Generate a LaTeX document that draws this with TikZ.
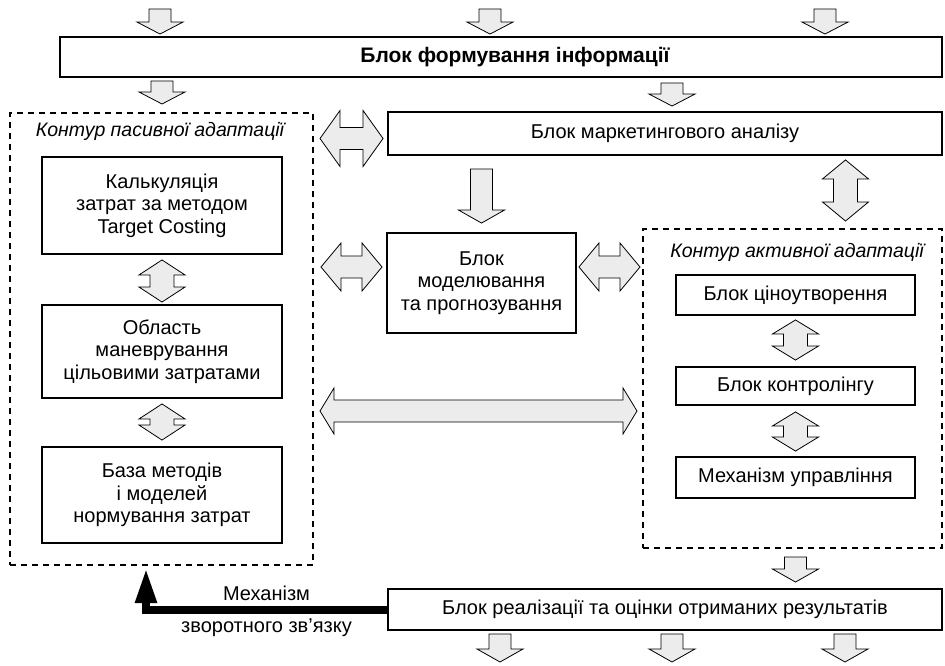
\documentclass[tikz,border=0pt]{standalone}
\usepackage{fontspec}
\setmainfont{Liberation Sans}
\usetikzlibrary{arrows.meta, calc, positioning}
\tikzset{
  block/.style={draw, line width=1.9pt, fill=white, align=center, inner sep=0pt,
                font=\fontsize{20}{22.5}\selectfont},
  contour/.style={draw, line width=2pt, dash pattern=on 6pt off 5pt, inner sep=0pt},
  contourlabel/.style={font=\fontsize{19.5}{22}\selectfont\itshape},
  fatarrow/.style={draw, line width=0.8pt, fill=gray!15, line join=miter},
  feedback/.style={line width=8pt, -{Triangle[length=35pt,width=20pt]}},
  fblabel/.style={font=\fontsize{20}{22}\selectfont, inner sep=2pt},
}
% hollow block arrows: [head length]{from}{to}
\newcommand{\fatdown}[3][13pt]{%
  \draw[fatarrow] let \p1=#2, \p2=#3 in
    (\x1-11pt,\y1) -- (\x1+11pt,\y1) -- (\x1+11pt,\y2+#1) -- (\x1+23pt,\y2+#1)
    -- (\x1,\y2) -- (\x1-23pt,\y2+#1) -- (\x1-11pt,\y2+#1) -- cycle;}
\newcommand{\fatupdown}[3][15pt]{%
  \draw[fatarrow] let \p1=#2, \p2=#3 in
    (\x1,\y1) -- (\x1+23pt,\y1-#1) -- (\x1+12pt,\y1-#1) -- (\x1+12pt,\y2+#1)
    -- (\x1+23pt,\y2+#1) -- (\x1,\y2) -- (\x1-23pt,\y2+#1) -- (\x1-12pt,\y2+#1)
    -- (\x1-12pt,\y1-#1) -- (\x1-23pt,\y1-#1) -- cycle;}
% #4 = half height of the heads
\newcommand{\fatleftright}[4][20pt]{%
  \draw[fatarrow] let \p1=#2, \p2=#3 in
    (\x1,\y1) -- (\x1+#1,\y1+#4) -- (\x1+#1,\y1+11pt) -- (\x2-#1,\y1+11pt)
    -- (\x2-#1,\y1+#4) -- (\x2,\y1) -- (\x2-#1,\y1-#4) -- (\x2-#1,\y1-11pt)
    -- (\x1+#1,\y1-11pt) -- (\x1+#1,\y1-#4) -- cycle;}
\begin{document}
\begin{tikzpicture}[x=1pt, y=-1pt]
\useasboundingbox (0,0) rectangle (945,666);

% contours
\node[contour, minimum width=303pt, minimum height=452pt] (passive) at (161.5,339) {};
\node[contourlabel] (passivelbl) at (160,131) {Контур пасивної адаптації};
\node[contour, minimum width=299pt, minimum height=319pt] (active) at (792.5,388.5) {};
\node[contourlabel] (activelbl) at (797,252) {Контур активної адаптації};

% blocks
\node[block, minimum width=882pt, minimum height=40pt, font=\fontsize{21}{22}\selectfont\bfseries]
  (info) at (501,57) {\hspace*{28pt}Блок формування інформації};
\node[block, minimum width=554pt, minimum height=43pt] (mkt) at (665,133.5) {Блок маркетингового аналізу};
\node[block, minimum width=189pt, minimum height=100pt] (model) at (481.5,283) {Блок\\моделювання\\та прогнозування};
\node[block, minimum width=554pt, minimum height=41pt] (result) at (665,609.5) {Блок реалізації та оцінки отриманих результатів};

\node[block, minimum width=240pt, minimum height=97pt] (calc) at (162,205.5) {Калькуляція\\затрат за методом\\Target Costing};
\node[block, minimum width=240pt, minimum height=93pt] (area) at (162,351.5) {Область\\маневрування\\цільовими затратами};
\node[block, minimum width=240pt, minimum height=96pt] (base) at (162,495) {База методів\\і моделей\\нормування затрат};

\node[block, minimum width=239pt, minimum height=40pt] (price) at (795.5,295) {Блок ціноутворення};
\node[block, minimum width=239pt, minimum height=38pt] (control) at (795.5,386) {Блок контролінгу};
\node[block, minimum width=239pt, minimum height=41pt] (mech) at (795.5,477.5) {Механізм управління};

% inputs and outputs
\coordinate (in1) at (160,9);
\coordinate (in2) at (490,9);
\coordinate (in3) at (825,9);
\coordinate (out1) at (500,662);
\coordinate (out2) at (672,662);
\coordinate (out3) at (845,662);
\foreach \i in {1,2,3}
  \fatdown[12pt]{(in\i)}{([yshift=2pt]in\i |- info.north)};
\foreach \i in {1,2,3}
  \fatdown{([yshift=-3pt]out\i |- result.south)}{(out\i)};

\fatdown[12pt]{([yshift=-3pt]info.south -| calc.north)}{([yshift=8pt]calc.north |- passive.north)}
\fatdown[12pt]{([xshift=7pt,yshift=-5pt]info.south -| mkt.north)}{([xshift=7pt,yshift=5pt]mkt.north)}
\fatdown{([yshift=-13pt]mkt.south -| model.north)}{([yshift=9pt]model.north)}
\fatupdown[19pt]{([xshift=53pt,yshift=-4pt]mkt.south -| active.north)}{([xshift=53pt,yshift=7pt]active.north)}
\fatdown{([yshift=-8pt]active.south -| mech.south)}{([yshift=6pt]mech.south |- result.north)}

% left-right links
\fatleftright{([xshift=6pt,yshift=-5pt]passive.east |- mkt.west)}{([xshift=-4pt,yshift=-5pt]mkt.west)}{28pt}
\fatleftright{([xshift=7pt,yshift=16pt]passive.east |- model.west)}{([xshift=-4pt,yshift=16pt]model.west)}{24pt}
\fatleftright{([xshift=2pt,yshift=16pt]model.east)}{([xshift=-2pt,yshift=16pt]active.west |- model.east)}{24pt}
\fatleftright[14pt]{([xshift=6pt,yshift=-25pt]passive.east |- control.west)}{([xshift=-5pt,yshift=-25pt]active.west |- control.west)}{23pt}

% inside the contours
\fatupdown{([yshift=-5pt]calc.south)}{([yshift=2pt]area.north)}
\fatupdown{([yshift=-5pt]area.south)}{([yshift=6pt]base.north)}
\fatupdown[14pt]{([yshift=-4pt]price.south)}{([yshift=6pt]control.north)}
\fatupdown[14pt]{([yshift=-6pt]control.south)}{([yshift=5pt]mech.north)}

% feedback
\coordinate (fbtip) at ([xshift=-15.5pt,yshift=-2pt]passive.south);
\draw[feedback] (result.west) -- (result.west -| fbtip)
  node[fblabel, midway, above=3pt] (fbtop) {Механізм}
  node[fblabel, midway, below=3pt] (fbbot) {зворотного зв’язку}
  -- (fbtip);
\end{tikzpicture}
\end{document}
